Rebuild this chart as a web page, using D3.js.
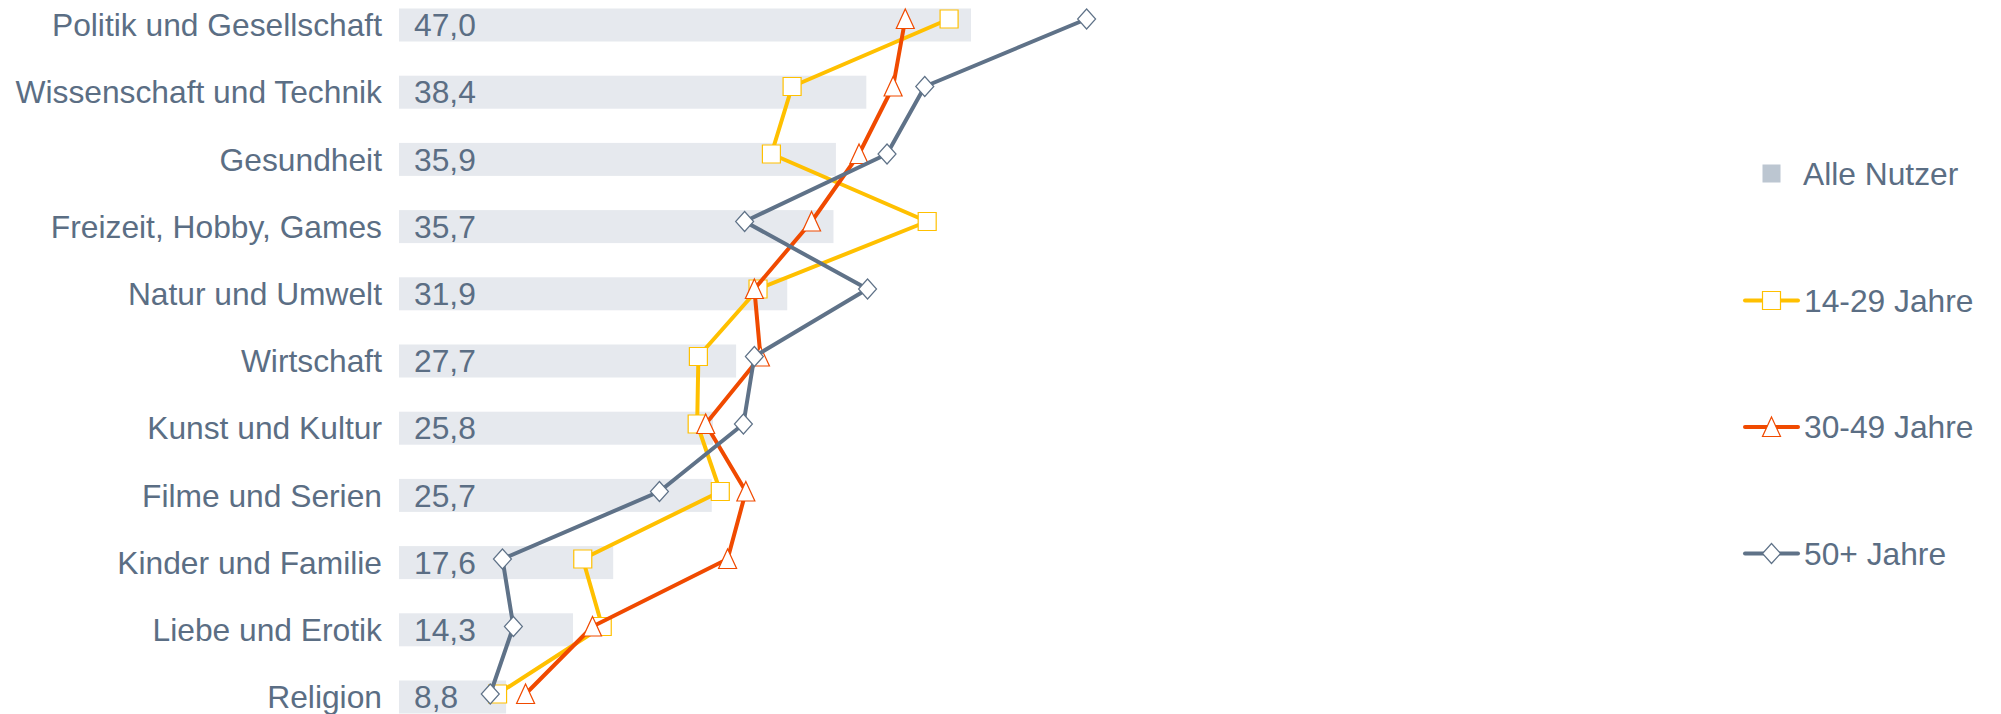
<!DOCTYPE html>
<meta charset="utf-8">
<style>
    body { margin: 0; background: #fff; }
    text {
        font-family: "Liberation Sans", Arial, sans-serif;
        font-size: 31.75px;
        fill: #5b6e84;
    }
    .bar { fill: #e6e9ee; }
    .series path.line { fill: none; stroke-width: 4px; stroke-linejoin: round; }
    .marker { fill: #fff; stroke-width: 1.2px; }
</style>
<body>
<script src="https://cdn.jsdelivr.net/npm/d3@7"></script>
<script>

// Categories and values (percent)
var categories = ["Politik und Gesellschaft", "Wissenschaft und Technik", "Gesundheit",
    "Freizeit, Hobby, Games", "Natur und Umwelt", "Wirtschaft", "Kunst und Kultur",
    "Filme und Serien", "Kinder und Familie", "Liebe und Erotik", "Religion"];
var alleNutzer = [47.0, 38.4, 35.9, 35.7, 31.9, 27.7, 25.8, 25.7, 17.6, 14.3, 8.8];
var jahre14 = [45.2, 32.3, 30.6, 43.4, 29.5, 24.6, 24.5, 26.4, 15.1, 16.7, 8.1];
var jahre30 = [41.6, 40.6, 37.8, 33.9, 29.2, 29.7, 25.2, 28.5, 27.0, 15.9, 10.4];
var jahre50 = [56.5, 43.2, 40.1, 28.4, 38.5, 29.2, 28.3, 21.4, 8.5, 9.4, 7.5];

var seriesNames = ["14-29 Jahre", "30-49 Jahre", "50+ Jahre"];
var seriesColors = ["#ffc000", "#f04a00", "#5f7288"];

var width = 2001, height = 714;

var svg = d3.select("body").append("svg")
    .attr("width", width)
    .attr("height", height);

var x = d3.scaleLinear().domain([0, 47]).range([399, 971]);
var yBar = d3.scalePoint().domain(categories).range([25, 697]);
var yLine = d3.scalePoint().domain(categories).range([19, 694]);
var barH = 33;

// marker shapes (highcharts-like), centred on 0,0
var markerPaths = [
    "M-9,-9H9V9H-9Z",
    "M0,-10L9,9.5H-9Z",
    "M0,-10L9,0L0,10L-9,0Z"
];

// bars for "Alle Nutzer"
svg.append("g").selectAll("rect")
    .data(categories)
    .enter().append("rect")
    .attr("class", "bar")
    .attr("x", x(0))
    .attr("y", function(d) { return yBar(d) - barH / 2; })
    .attr("width", function(d, i) { return x(alleNutzer[i]) - x(0); })
    .attr("height", barH);

// category labels
svg.append("g").selectAll("text")
    .data(categories)
    .enter().append("text")
    .attr("x", 382)
    .attr("y", function(d) { return yBar(d); })
    .attr("dy", "0.35em")
    .attr("text-anchor", "end")
    .text(function(d) { return d; });

// value labels inside bars
var fmt = function(v) { return v.toFixed(1).replace(".", ","); };
svg.append("g").selectAll("text")
    .data(categories)
    .enter().append("text")
    .attr("x", x(0) + 15)
    .attr("y", function(d) { return yBar(d); })
    .attr("dy", "0.35em")
    .text(function(d, i) { return fmt(alleNutzer[i]); });

// line series
var allSeries = [jahre14, jahre30, jahre50];
var line = d3.line()
    .x(function(d) { return x(d.v); })
    .y(function(d) { return yLine(d.c); });

allSeries.forEach(function(vals, s) {
    var pts = categories.map(function(c, i) { return {c: c, v: vals[i]}; });
    var g = svg.append("g").attr("class", "series");
    g.append("path")
        .datum(pts)
        .attr("class", "line")
        .attr("d", line)
        .attr("stroke", seriesColors[s]);
    g.selectAll(".marker")
        .data(pts)
        .enter().append("path")
        .attr("class", "marker")
        .attr("stroke", seriesColors[s])
        .attr("d", markerPaths[s])
        .attr("transform", function(d) {
            return "translate(" + x(d.v) + "," + yLine(d.c) + ")";
        });
});

// legend
var legend = svg.append("g");
var legY = [173.5, 300.5, 427, 553.5];

legend.append("rect")
    .attr("x", 1762.5)
    .attr("y", legY[0] - 9)
    .attr("width", 18)
    .attr("height", 18)
    .attr("fill", "#bcc6d1");
legend.append("text")
    .attr("x", 1803)
    .attr("y", legY[0])
    .attr("dy", "0.35em")
    .text("Alle Nutzer");

seriesNames.forEach(function(name, s) {
    var ly = legY[s + 1];
    legend.append("line")
        .attr("x1", 1745).attr("x2", 1798)
        .attr("y1", ly).attr("y2", ly)
        .attr("stroke", seriesColors[s])
        .attr("stroke-width", 4)
        .attr("stroke-linecap", "round");
    legend.append("path")
        .attr("class", "marker")
        .attr("stroke", seriesColors[s])
        .attr("d", markerPaths[s])
        .attr("transform", "translate(1771.5," + ly + ")");
    legend.append("text")
        .attr("x", 1804)
        .attr("y", ly)
        .attr("dy", "0.35em")
        .text(name);
});

</script>
</body>
